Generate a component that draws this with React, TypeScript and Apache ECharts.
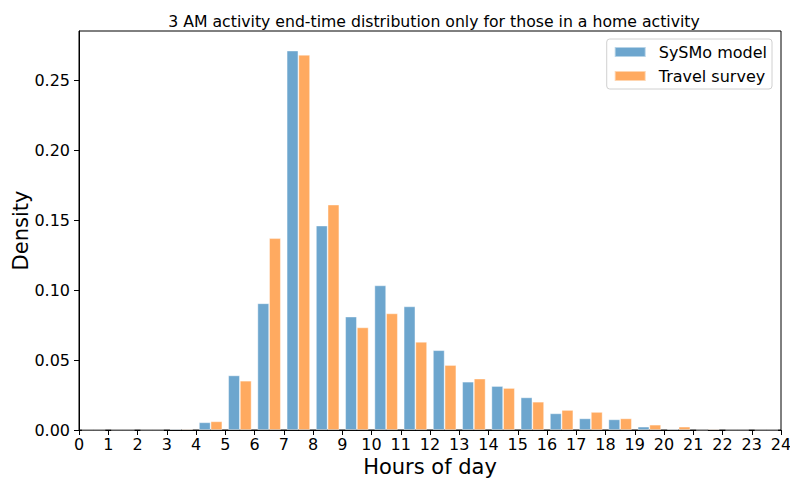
import React, { useEffect, useRef } from "react";
import * as echarts from "echarts";

const hours: string[] = Array.from({ length: 24 }, (_, i) => String(i));
const sysmoModel: number[] = [
  0, 0, 0, 0.0007, 0.0055, 0.039, 0.0905, 0.271, 0.146, 0.081, 0.1033, 0.0883,
  0.057, 0.0345, 0.0314, 0.0233, 0.0119, 0.0083, 0.0076, 0.0024, 0.0007, 0, 0, 0,
];
const travelSurvey: number[] = [
  0, 0, 0, 0.0007, 0.0062, 0.0352, 0.137, 0.268, 0.161, 0.0733, 0.0833, 0.063,
  0.0464, 0.0367, 0.03, 0.0202, 0.0143, 0.0129, 0.0083, 0.0038, 0.0024, 0.0007, 0, 0,
];
const yTicks: number[] = [0, 0.05, 0.1, 0.15, 0.2, 0.25];

const FONT = "DejaVu Sans";

export default function App() {
  const ref = useRef<HTMLDivElement>(null);
  useEffect(() => {
    if (!ref.current) return;
    const chart = echarts.init(ref.current, null, { renderer: "svg" });
    chart.setOption({
      animation: false,
      backgroundColor: "#ffffff",
      textStyle: { fontFamily: FONT },
      title: {
        text: "3 AM activity end-time distribution only for those in a home activity",
        left: 429,
        top: 8,
        textAlign: "center",
        textStyle: { fontFamily: FONT, fontSize: 15.7, fontWeight: "normal", color: "#000" },
      },
      legend: {
        orient: "vertical",
        right: 18,
        top: 39,
        itemWidth: 31,
        itemHeight: 10,
        itemGap: 8,
        padding: [5, 5, 5, 7],
        backgroundColor: "#fff",
        borderColor: "#d0d0d0",
        borderWidth: 1,
        borderRadius: 3,
        icon: "rect",
        textStyle: { fontFamily: FONT, fontSize: 16, color: "#000", padding: [0, 0, 0, 8] },
        data: ["SySMo model", "Travel survey"],
      },
      grid: {
        left: 79,
        right: 9,
        top: 31,
        bottom: 50,
        containLabel: false,
        outerBoundsMode: "none",
        show: true,
        borderColor: "#000",
        borderWidth: 1,
        backgroundColor: "transparent",
      },
      xAxis: [
        {
          type: "value",
          min: 0,
          max: 24,
          interval: 1,
          name: "Hours of day",
          nameLocation: "middle",
          nameGap: 25,
          nameTextStyle: { fontFamily: FONT, fontSize: 21, color: "#000" },
          axisLine: { show: true, lineStyle: { color: "#000", width: 1 } },
          axisTick: { show: true, inside: false, length: 5, lineStyle: { color: "#000" } },
          axisLabel: { fontFamily: FONT, fontSize: 16, color: "#000", margin: 6 },
          splitLine: { show: false },
        },
        {
          type: "category",
          data: hours,
          boundaryGap: true,
          show: false,
        },
      ],
      yAxis: {
        type: "value",
        min: 0,
        max: 0.285,
        name: "Density",
        nameLocation: "middle",
        nameGap: 48,
        nameMoveOverlap: false,
        nameTextStyle: { fontFamily: FONT, fontSize: 21, color: "#000" },
        axisLine: { show: true, lineStyle: { color: "#000", width: 1 } },
        axisTick: {
          show: true,
          inside: false,
          length: 5,
          lineStyle: { color: "#000" },
          customValues: yTicks,
        },
        axisLabel: {
          fontFamily: FONT,
          fontSize: 16,
          color: "#000",
          margin: 9,
          customValues: yTicks,
          formatter: (v: number) => v.toFixed(2),
        },
        splitLine: { show: false },
      },
      series: [
        {
          name: "SySMo model",
          type: "bar",
          xAxisIndex: 1,
          data: sysmoModel,
          barWidth: "40%",
          barGap: "0%",
          itemStyle: { color: "#6da6ce", borderColor: "rgba(255,255,255,0.5)", borderWidth: 0.8 },
        },
        {
          name: "Travel survey",
          type: "bar",
          xAxisIndex: 1,
          data: travelSurvey,
          barWidth: "40%",
          barGap: "0%",
          itemStyle: { color: "#ffaa60", borderColor: "rgba(255,255,255,0.5)", borderWidth: 0.8 },
        },
      ],
    });
    return () => chart.dispose();
  }, []);
  return (
    <div
      ref={ref}
      style={{ position: "fixed", left: 0, top: 0, width: 790, height: 480, background: "#fff" }}
    />
  );
}
